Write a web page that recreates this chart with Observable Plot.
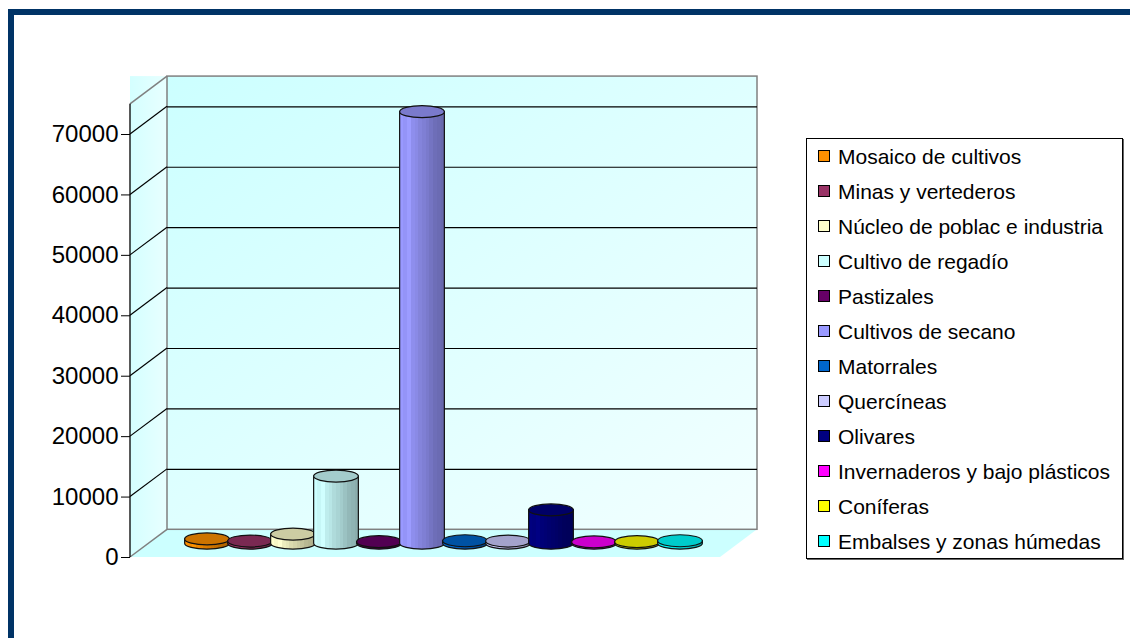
<!DOCTYPE html>
<html><head><meta charset="utf-8">
<script src="https://cdn.jsdelivr.net/npm/d3@7"></script>
<script src="https://cdn.jsdelivr.net/npm/@observablehq/plot@0.6"></script>
<style>
body{margin:0;background:#fff;}
#page{position:relative;width:1130px;height:638px;overflow:hidden;font-family:"Liberation Sans",Arial,sans-serif;background:#fff;}
#frame{position:absolute;left:8px;top:9px;right:-20px;bottom:-20px;border-left:6px solid #003366;border-top:6px solid #003366;}
#chart{position:absolute;left:0;top:0;}
#legend{position:absolute;left:806px;top:138px;width:317px;height:421px;border:1px solid #000;box-sizing:border-box;background:#fff;box-shadow:1px 1px 0 #666;}
.item{position:absolute;left:31px;font-size:21px;line-height:21px;white-space:nowrap;color:#000;}
.sw{position:absolute;left:11px;width:10px;height:10px;border:1px solid #000;}
</style></head>
<body><div id="page"><div id="frame"></div><div id="chart"></div><div id="legend"></div></div>
<script>
// ---- data ----
const categories = ["Mosaico de cultivos","Minas y vertederos","Núcleo de poblac e industria","Cultivo de regadío","Pastizales","Cultivos de secano","Matorrales","Quercíneas","Olivares","Invernaderos y bajo plásticos","Coníferas","Embalses y zonas húmedas"];
const values = [700, 350, 1500, 11100, 250, 71400, 400, 350, 5500, 200, 250, 400];
const colors = ["#FF9000","#993366","#FFFFCC","#CCFFFF","#660066","#9999FF","#0066CC","#CCCCFF","#000080","#FF00FF","#FFFF00","#00FFFF"];
const yTicks = [0,10000,20000,30000,40000,50000,60000,70000];
const gridValues = [10000,20000,30000,40000,50000,60000,70000];
const wallTop = 75000;

const data = categories.map((c,i)=>({cat:c, value:values[i], color:colors[i]}));
const DX = 37, DY = 27.7;   // 3D depth offset (pixels)

function scaleColor(c, k){ const r = d3.rgb(c); return d3.rgb(r.r*k, r.g*k, r.b*k).formatHex(); }

function walls(index, scales){
  const g = d3.create("svg:g");
  const defs = g.append("defs");
  const gw = defs.append("linearGradient").attr("id","backwall").attr("x1",0).attr("y1",0).attr("x2",1).attr("y2",1);
  gw.append("stop").attr("offset",0).attr("stop-color","#CCFFFF");
  gw.append("stop").attr("offset",1).attr("stop-color","#F2FFFF");
  const gs = defs.append("linearGradient").attr("id","sidewall").attr("x1",0).attr("y1",0).attr("x2",1).attr("y2",0);
  gs.append("stop").attr("offset",0).attr("stop-color","#D4FFFF");
  gs.append("stop").attr("offset",1).attr("stop-color","#E8FFFF");
  const [x0, x1] = scales.x.range();
  const y0 = scales.y(0), yT = scales.y(wallTop);
  // side wall (filled as box)
  g.append("rect").attr("x",x0).attr("y",yT-DY).attr("width",DX).attr("height",y0-(yT-DY)).attr("fill","url(#sidewall)");
  // floor
  g.append("path").attr("d",`M${x0},${y0}L${x0+DX},${y0-DY}L${x1+DX},${y0-DY}L${x1},${y0}Z`).attr("fill","#CCFFFF");
  // back wall
  g.append("rect").attr("x",x0+DX).attr("y",yT-DY).attr("width",x1-x0).attr("height",(y0-DY)-(yT-DY))
    .attr("fill","url(#backwall)").attr("stroke","#808080").attr("stroke-width",1.5);
  // side diagonals
  yTicks.forEach(t=>{
    g.append("line").attr("x1",x0).attr("y1",scales.y(t)).attr("x2",x0+DX).attr("y2",scales.y(t)-DY)
      .attr("stroke", t===0 ? "#808080" : "#000").attr("stroke-width", t===0?1.5:1.2);
  });
  g.append("line").attr("x1",x0).attr("y1",yT).attr("x2",x0+DX).attr("y2",yT-DY).attr("stroke","#808080").attr("stroke-width",1.5);
  // axis line
  g.append("line").attr("x1",x0).attr("y1",yT).attr("x2",x0).attr("y2",y0).attr("stroke","#000").attr("stroke-width",1.3);
  return g.node();
}

function cylinders(index, scales){
  const g = d3.create("svg:g");
  const defs = g.append("defs");
  const bw = scales.x.bandwidth();
  const rx = bw*0.52, ry = 6;
  const facets = [1.0,0.97,1.02,0.93,0.9,0.86,0.83,0.8,0.76,0.72,0.7,0.68];
  data.forEach((d,i)=>{
    const grad = defs.append("linearGradient").attr("id",`cyl${i}`).attr("x1",0).attr("y1",0).attr("x2",1).attr("y2",0);
    facets.forEach((k,j)=>{
      grad.append("stop").attr("offset", j/facets.length).attr("stop-color", scaleColor(d.color,k));
      grad.append("stop").attr("offset", (j+1)/facets.length).attr("stop-color", scaleColor(d.color,k));
    });
    const cx = scales.x(d.cat) + bw/2 + DX/2;
    const yb = scales.y(0) - DY/2;
    const yt = scales.y(d.value) - DY/2;
    g.append("path")
      .attr("d",`M${cx-rx},${yt}L${cx-rx},${yb}A${rx},${ry} 0 0 0 ${cx+rx},${yb}L${cx+rx},${yt}Z`)
      .attr("fill",`url(#cyl${i})`).attr("stroke","#111").attr("stroke-width",1.2);
    g.append("ellipse").attr("cx",cx).attr("cy",yt).attr("rx",rx).attr("ry",ry)
      .attr("fill", scaleColor(d.color,0.8)).attr("stroke","#111").attr("stroke-width",1.2);
  });
  return g.node();
}

const chart = Plot.plot({
  width: 1130, height: 638,
  marginLeft: 130, marginRight: 410, marginTop: 134, marginBottom: 81,
  style: {background:"transparent", fontFamily:"Liberation Sans, Arial, sans-serif", fontSize:"24px", overflow:"visible"},
  x: {type:"band", domain: categories, range:[130,720], paddingInner:0, paddingOuter:0.76, axis:null},
  y: {domain:[0,70000], range:[557,134], ticks: yTicks, tickSize: 9, tickPadding: 3, tickFormat: d=>String(d), label:null},
  marks: [
    walls,
    Plot.ruleY(gridValues, {y: d=>d, dx: DX, dy: -DY, stroke:"#000", strokeWidth:1.2}),
    Plot.barY(data, {x:"cat", y:"value", fill:"none"}),
    cylinders
  ]
});
document.getElementById("chart").appendChild(chart);

const legend = document.getElementById("legend");
categories.forEach((c,i)=>{
  const sw = document.createElement("div");
  sw.className = "sw"; sw.style.top = (11+35*i)+"px"; sw.style.background = colors[i];
  legend.appendChild(sw);
  const t = document.createElement("div");
  t.className = "item"; t.style.top = (6.5+35*i)+"px"; t.textContent = c;
  legend.appendChild(t);
});
</script>
</body></html>
